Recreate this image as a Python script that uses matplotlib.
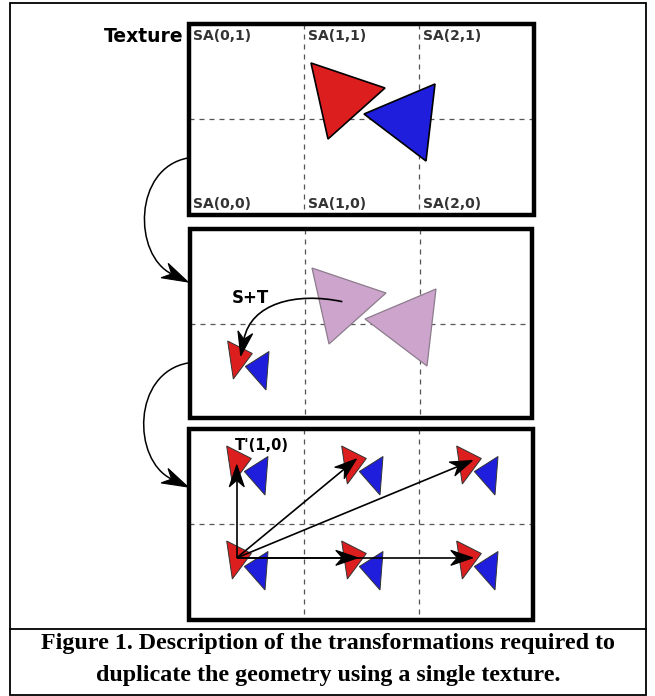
import numpy as np
import matplotlib
matplotlib.use("Agg")
import matplotlib.pyplot as plt
from matplotlib.patches import Polygon, Rectangle, PathPatch
from matplotlib.path import Path

# ---------------- data ----------------
# geometry in texture-panel coordinates (pixels from panel top-left)
red_tri_x = [122, 196, 139]
red_tri_y = [39, 64, 115]
blue_tri_x = [246, 175, 237]
blue_tri_y = [60, 90, 137]
# S+T transform (scale, translate) applied in panel 2
scale_st = (1 / 3, 1 / 2)
translate_st = (-3, 92.5)
# labels of texture cells
sa_top_labels = ["SA(0,1)", "SA(1,1)", "SA(2,1)"]
sa_bottom_labels = ["SA(0,0)", "SA(1,0)", "SA(2,0)"]
# copies in panel 3: (column, row) of cell
copy_cols = [0, 1, 2, 0, 1, 2]
copy_rows = [0, 0, 0, 1, 1, 1]
# arrows in panel 3 go from copy (0,0) to these cells
arrow_cols = [0, 1, 2, 1, 2]
arrow_rows = [1, 1, 1, 0, 0]
label_texture = "Texture"
label_st = "S+T"
label_t = "T'(1,0)"
caption_lines = ["Figure 1. Description of the transformations required to",
                 "duplicate the geometry using a single texture."]

# ---------------- layout ----------------
W, H = 655, 696
panel_left = [189, 190, 189]
panel_top = [24, 229, 429]
panel_w = [345, 342, 344]
panel_h = [191, 189, 191]
cell_w, cell_h = 115, 95

RED = "#dc1e1e"
BLUE = "#1e1edc"
PINK = "#cca4cc"

fig = plt.figure(figsize=(W / 100, H / 100), dpi=100)
ax = fig.add_axes([0, 0, 1, 1])
ax.set_xlim(0, W)
ax.set_ylim(H, 0)
ax.axis("off")

# outer frame & caption separator
ax.add_patch(Rectangle((10, 3), 636, 692, fill=False, lw=1.3, ec="k", zorder=1))
ax.plot([10, 646], [629, 629], color="k", lw=1.3, zorder=1)

# panels and grids
for L, T, pw, ph in zip(panel_left, panel_top, panel_w, panel_h):
    for c in (1, 2):
        ax.plot([L + c * cell_w] * 2, [T, T + ph], color="#555555", lw=0.9,
                linestyle=(0, (4, 4)), zorder=1)
    ax.plot([L, L + pw], [T + cell_h] * 2, color="#555555", lw=0.9,
            linestyle=(0, (4, 4)), zorder=1)
    ax.add_patch(Rectangle((L, T), pw, ph, fill=False, lw=3.2, ec="k",
                           joinstyle="miter", zorder=2))


def tri(ox, oy, xs, ys, fc, ec="k", lw=1.0, z=3, sx=1.0, sy=1.0, tx=0.0, ty=0.0):
    pts = np.column_stack([ox + np.array(xs) * sx + tx, oy + np.array(ys) * sy + ty])
    ax.add_patch(Polygon(pts, closed=True, fc=fc, ec=ec, lw=lw, zorder=z,
                         joinstyle="miter"))
    return pts


def head(tip, d, L=16, Wd=11, z=6):
    d = np.asarray(d, float)
    d = d / np.hypot(*d)
    n = np.array([-d[1], d[0]])
    tip = np.asarray(tip, float)
    back = tip - d * L
    notch = tip - d * L * 0.7
    ax.add_patch(Polygon([tip, back + n * Wd / 2, notch, back - n * Wd / 2],
                         closed=True, fc="k", ec="k", lw=0.8, zorder=z))
    return notch


def curve_arrow(p0, p1, p2, p3, lw=1.0, L=20, Wd=12):
    p0, p1, p2, p3 = [np.asarray(p, float) for p in (p0, p1, p2, p3)]
    notch = head(p3, p3 - p2, L=L, Wd=Wd)
    path = Path([p0, p1, p2, notch], [Path.MOVETO, Path.CURVE4, Path.CURVE4, Path.CURVE4])
    ax.add_patch(PathPatch(path, fill=False, lw=lw, ec="k", zorder=5))


def straight_arrow(a, b, lw=1.2, L=22, Wd=15):
    a, b = np.asarray(a, float), np.asarray(b, float)
    notch = head(b, b - a, L=L, Wd=Wd)
    ax.plot([a[0], notch[0]], [a[1], notch[1]], color="k", lw=lw, zorder=5,
            solid_capstyle="butt")


# ---- panel 1 : texture ----
L1, T1 = panel_left[0], panel_top[0]
tri(L1, T1, red_tri_x, red_tri_y, RED, lw=1.2)
tri(L1, T1, blue_tri_x, blue_tri_y, BLUE, lw=1.2)
for i, (lt, lb) in enumerate(zip(sa_top_labels, sa_bottom_labels)):
    x = L1 + i * cell_w + 4
    ax.text(x, T1 + 12, lt, fontsize=10, fontweight="bold", color="#333333",
            ha="left", va="center")
    ax.text(x, T1 + 180, lb, fontsize=10, fontweight="bold", color="#333333",
            ha="left", va="center")
ax.text(L1 - 5, T1 + 13, label_texture, fontsize=13.5, fontweight="bold",
        color="k", ha="right", va="center")

# ---- panel 2 : S+T ----
L2, T2 = panel_left[1], panel_top[1]
big_red = tri(L2, T2, red_tri_x, red_tri_y, PINK, ec="#8c7c8c", lw=0.9)
tri(L2, T2, blue_tri_x, blue_tri_y, PINK, ec="#8c7c8c", lw=0.9)
sx, sy = scale_st
tx, ty = translate_st
small_red = tri(L2, T2, red_tri_x, red_tri_y, RED, lw=0.7, ec="#333333",
                sx=sx, sy=sy, tx=tx, ty=ty)
tri(L2, T2, blue_tri_x, blue_tri_y, BLUE, lw=0.7, ec="#333333",
    sx=sx, sy=sy, tx=tx, ty=ty)
c_big = big_red.mean(axis=0)
c_small = small_red.mean(axis=0)
curve_arrow(c_big, c_big + (-47, -10), (c_small[0] + 13, c_big[1] + 2),
            c_small + (3, -2), lw=1.2, L=24, Wd=15)
ax.text(L2 + 42, T2 + 69, label_st, fontsize=12, fontweight="bold", color="k",
        ha="left", va="center")

# ---- connectors between panels ----
curve_arrow((188, 158), (133, 168), (133, 255), (188, 282), lw=1.1, L=26, Wd=16)
curve_arrow((188, 363), (132, 373), (132, 460), (188, 487), lw=1.1, L=26, Wd=16)

# ---- panel 3 : copies ----
L3, T3 = panel_left[2], panel_top[2]
centers = {}
for c, r in zip(copy_cols, copy_rows):
    rp = tri(L3, T3, red_tri_x, red_tri_y, RED, lw=0.7, ec="#333333", sx=sx, sy=sy,
             tx=tx + c * cell_w, ty=ty - r * cell_h)
    tri(L3, T3, blue_tri_x, blue_tri_y, BLUE, lw=0.7, ec="#333333", sx=sx, sy=sy,
        tx=tx + c * cell_w, ty=ty - r * cell_h)
    centers[(c, r)] = rp.mean(axis=0)
start = centers[(0, 0)]
for c, r in zip(arrow_cols, arrow_rows):
    end = centers[(c, r)]
    d = end - start
    end = end + d / np.hypot(*d) * (6 if c > 0 else -2)
    straight_arrow(start, end)
ax.text(L3 + 46, T3 + 17, label_t, fontsize=10.5, fontweight="bold", color="k",
        ha="left", va="center")

# ---- caption ----
ax.text(328, 644, caption_lines[0], fontsize=17.3, fontweight="bold",
        family="Liberation Serif", ha="center", va="center", color="k")
ax.text(328, 675, caption_lines[1], fontsize=17.3, fontweight="bold",
        family="Liberation Serif", ha="center", va="center", color="k")

fig.savefig("out.png", dpi=100)
